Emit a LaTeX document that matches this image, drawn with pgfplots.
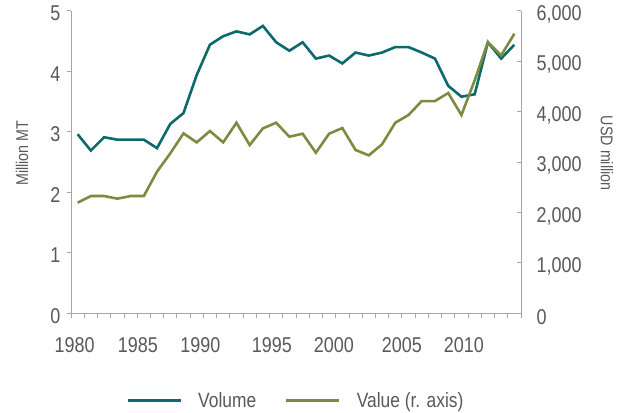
\documentclass[border=0pt]{standalone}
\usepackage{pgfplots}
\pgfplotsset{compat=1.18}
\usepackage{pgfplotstable}
\usepackage{fontspec}
\setmainfont[FakeStretch=0.84]{Liberation Sans}
\definecolor{vol}{HTML}{0B6A6B}
\definecolor{val}{HTML}{7D8B40}
\definecolor{txt}{HTML}{595959}
\definecolor{axl}{HTML}{A6A6A6}

\pgfplotstableread{
year vol
1980 2.96
1981 2.69
1982 2.91
1983 2.87
1984 2.87
1985 2.87
1986 2.73
1987 3.13
1988 3.31
1989 3.94
1990 4.44
1991 4.58
1992 4.66
1993 4.61
1994 4.75
1995 4.48
1996 4.34
1997 4.48
1998 4.21
1999 4.26
2000 4.13
2001 4.31
2002 4.26
2003 4.31
2004 4.40
2005 4.40
2006 4.31
2007 4.21
2008 3.76
2009 3.58
2010 3.62
2011 4.48
2012 4.21
2013 4.44
}\voltable

\pgfplotstableread{
year val
1980 2194
1981 2326
1982 2326
1983 2274
1984 2326
1985 2326
1986 2809
1987 3172
1988 3569
1989 3390
1990 3615
1991 3390
1992 3780
1993 3337
1994 3668
1995 3780
1996 3503
1997 3562
1998 3186
1999 3562
2000 3675
2001 3239
2002 3133
2003 3351
2004 3780
2005 3933
2006 4210
2007 4210
2008 4369
2009 3933
2010 4620
2011 5380
2012 5116
2013 5545
}\valtable

\begin{document}
\begin{tikzpicture}
\pgfplotsset{
  common/.style={
    scale only axis, width=450bp, height=302.5bp,
    xmin=1979.5, xmax=2013.5, ymin=0,
    axis line style={axl, line width=0.8bp},
    every tick/.style={axl, line width=0.8bp},
    ticklabel style={font=\fontsize{21.4bp}{24bp}\selectfont, text=txt},
    label style={font=\fontsize{17bp}{20bp}\selectfont, text=txt},
    /pgf/number format/assume math mode=true,
    clip=false,
  }
}
\begin{axis}[common,
  axis x line*=bottom, axis y line*=left,
  ymax=5, ytick={0,1,2,3,4,5},
  xtick={1979.77,1984.55,1989.28,1994.68,1999.37,2004.5,2009.18},
  xticklabels={1980,1985,1990,1995,2000,2005,2010},
  major x tick style={draw=none},
  minor xtick={1979.5,1980.5,...,2013.5},
  minor x tick style={axl},
  minor tick length=5bp,
  major tick length=4bp,
  tick align=outside,
  xticklabel style={yshift=-17bp},
  yticklabel style={xshift=-3bp, yshift=-2.5bp},
  ylabel={Million MT},
  ylabel style={at={(axis description cs:-0.109,0.529)}, anchor=center},
]
\addplot[vol, line width=2.6bp] table[x=year, y=vol] {\voltable};
\end{axis}
\begin{axis}[common,
  axis x line=none, axis y line*=right,
  ymax=6000, ytick={0,1000,...,6000},
  major tick length=4bp,
  tick align=inside,
  /pgf/number format/.cd, fixed, 1000 sep={,},
  /pgfplots/.cd,
  yticklabel style={xshift=12bp, yshift=-3.5bp},
  ylabel={USD million},
  ylabel style={at={(axis description cs:1.191,0.529)}, anchor=center, rotate=180},
  legend style={at={(axis description cs:0.5,-0.288)}, anchor=center, draw=none, fill=none,
    legend columns=2, font=\fontsize{20.7bp}{23bp}\selectfont, text=txt,
    /tikz/every odd column/.append style={column sep=14bp},
    /tikz/every even column/.append style={column sep=27bp}},
  legend image code/.code={\draw[#1] (0bp,0bp) -- (53bp,0bp);},
]
\addlegendimage{vol, line width=2.6bp}
\addlegendentry{Volume}
\addplot[val, line width=2.6bp] table[x=year, y=val] {\valtable};
\addlegendentry{Value (r. axis)}
\end{axis}
\pgfresetboundingbox
\useasboundingbox (-71bp,-99bp) rectangle (554bp,313.3bp);
\end{tikzpicture}
\end{document}
